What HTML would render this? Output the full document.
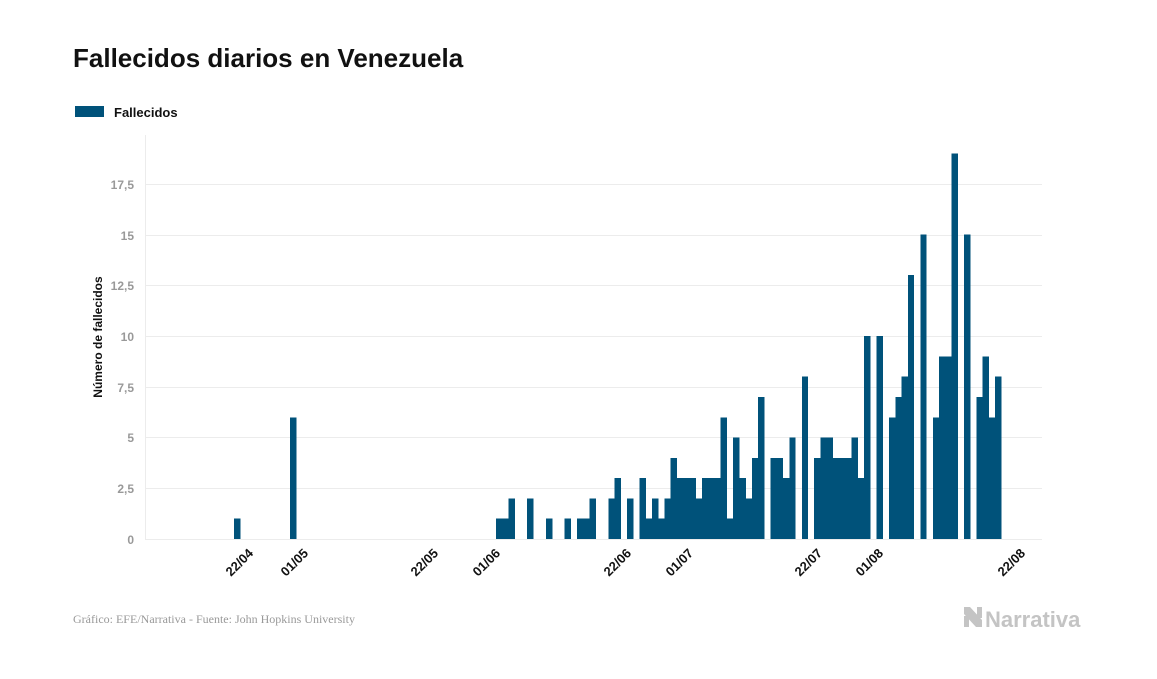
<!DOCTYPE html>
<html><head><meta charset="utf-8"><style>
body{margin:0;background:#fff;width:1157px;height:674px;overflow:hidden;font-family:"Liberation Sans",sans-serif}
</style></head><body>
<svg id="s" width="1157" height="674" xmlns="http://www.w3.org/2000/svg" font-family="Liberation Sans, sans-serif">
<text x="73" y="67" font-size="26" font-weight="bold" fill="#111">Fallecidos diarios en Venezuela</text>
<rect x="75" y="106" width="29" height="11" fill="#00527a"/>
<text x="114" y="117" font-size="13" font-weight="bold" fill="#111">Fallecidos</text>
<g stroke="#ececec" stroke-width="1">
<line x1="145" x2="1042" y1="184.5" y2="184.5"/><line x1="145" x2="1042" y1="235.5" y2="235.5"/>
<line x1="145" x2="1042" y1="285.5" y2="285.5"/><line x1="145" x2="1042" y1="336.5" y2="336.5"/>
<line x1="145" x2="1042" y1="387.5" y2="387.5"/><line x1="145" x2="1042" y1="437.5" y2="437.5"/>
<line x1="145" x2="1042" y1="488.5" y2="488.5"/><line x1="145" x2="1042" y1="539.5" y2="539.5"/>
<line x1="145.5" x2="145.5" y1="135" y2="539"/>
</g>
<g font-size="12" font-weight="bold" fill="#999" text-anchor="end">
<text x="134" y="189">17,5</text><text x="134" y="240">15</text><text x="134" y="290">12,5</text>
<text x="134" y="341">10</text><text x="134" y="392">7,5</text><text x="134" y="442">5</text>
<text x="134" y="493">2,5</text><text x="134" y="544">0</text>
</g>
<text transform="translate(102,337) rotate(-90)" text-anchor="middle" font-size="12" font-weight="bold" fill="#111">Número de fallecidos</text>
<g id="bars" fill="#00527a" shape-rendering="crispEdges"></g>
<g font-size="13" font-weight="bold" fill="#111" text-anchor="end">
<text transform="translate(254,554) rotate(-45)">22/04</text>
<text transform="translate(309,554) rotate(-45)">01/05</text>
<text transform="translate(439,554) rotate(-45)">22/05</text>
<text transform="translate(501,554) rotate(-45)">01/06</text>
<text transform="translate(632,554) rotate(-45)">22/06</text>
<text transform="translate(694,554) rotate(-45)">01/07</text>
<text transform="translate(823,554) rotate(-45)">22/07</text>
<text transform="translate(884,554) rotate(-45)">01/08</text>
<text transform="translate(1026,554) rotate(-45)">22/08</text>
</g>
<text x="73" y="623" font-family="Liberation Serif, serif" font-size="12" fill="#999">Gráfico: EFE/Narrativa - Fuente: John Hopkins University</text>
<g fill="#c4c4c4"><polygon points="964,607 970,607 982,620 982,627 976,627 964,614"/><rect x="964" y="616" width="5" height="11"/><rect x="977" y="607" width="5" height="11"/></g>
<text x="985" y="627" font-size="22" font-weight="bold" fill="#c4c4c4">Narrativa</text>
</svg>
<script>
var v={"-42":1,"-33":6,0:1,1:1,2:2,5:2,8:1,11:1,13:1,14:1,15:2,18:2,19:3,21:2,23:3,24:1,25:2,26:1,27:2,28:4,29:3,30:3,31:3,32:2,33:3,34:3,35:3,36:6,37:1,38:5,39:3,40:2,41:4,42:7,44:4,45:4,46:3,47:5,49:8,51:4,52:5,53:5,54:4,55:4,56:4,57:5,58:3,59:10,61:10,63:6,64:7,65:8,66:13,68:15,70:6,71:9,72:9,73:19,75:15,77:7,78:9,79:6,80:8};
var g=document.getElementById('bars'),h='';
for(var k in v){var x=496+6.24*(+k),hh=v[k]*20.29;h+='<rect x="'+x.toFixed(2)+'" y="'+(539-hh).toFixed(2)+'" width="6.4" height="'+hh.toFixed(2)+'"/>';}
g.innerHTML=h;
</script>
</body></html>
